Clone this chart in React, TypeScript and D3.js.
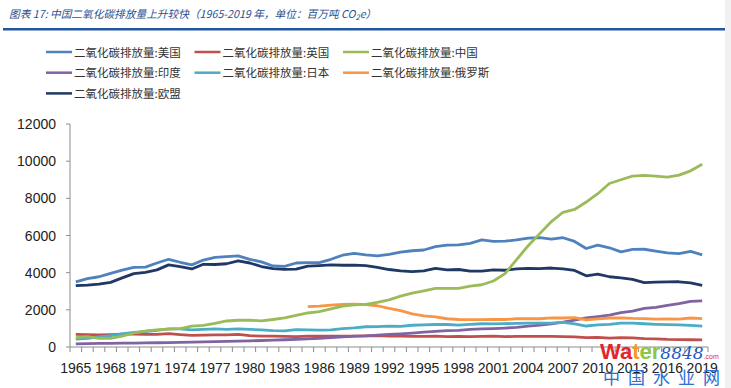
import * as d3 from "d3";

// ── Data ──────────────────────────────────────────────────────────────────────

const YEARS = d3.range(1965, 2020);
const TICK_YEARS = d3.range(1965, 2020, 3);
const Y_TICKS = [0, 2000, 4000, 6000, 8000, 10000, 12000];

const US = [
  3500, 3680, 3780, 3960, 4140, 4280, 4300, 4520, 4720, 4560,
  4420, 4680, 4820, 4860, 4900, 4720, 4580, 4360, 4340, 4520,
  4540, 4540, 4720, 4940, 5040, 4960, 4900, 4980, 5100, 5180,
  5220, 5400, 5480, 5500, 5580, 5760, 5680, 5700, 5760, 5860,
  5880, 5800, 5880, 5680, 5300, 5480, 5340, 5120, 5250, 5260,
  5160, 5060, 5020, 5150, 4960,
];

const UK = [
  680, 670, 650, 670, 690, 700, 680, 680, 720, 670,
  630, 640, 650, 650, 680, 610, 590, 580, 570, 560,
  580, 590, 590, 590, 590, 600, 610, 590, 580, 570,
  570, 590, 560, 570, 560, 570, 580, 560, 570, 570,
  570, 570, 560, 550, 500, 520, 480, 500, 490, 450,
  440, 410, 400, 390, 380,
];

const CHINA = [
  500, 560, 470, 460, 580, 760, 860, 920, 960, 990,
  1120, 1160, 1270, 1400, 1440, 1440, 1410, 1480, 1570, 1700,
  1830, 1900, 2050, 2200, 2270, 2290, 2400, 2540, 2740, 2900,
  3020, 3150, 3160, 3160, 3280, 3350, 3550, 3950, 4700, 5450,
  6100, 6750, 7250, 7400, 7800, 8250, 8800, 9000, 9200, 9230,
  9200, 9140, 9250, 9480, 9830,
];

const INDIA = [
  170, 180, 190, 200, 210, 210, 220, 230, 240, 250,
  260, 280, 290, 300, 320, 330, 350, 370, 390, 410,
  440, 470, 500, 540, 580, 600, 640, 680, 710, 750,
  800, 840, 880, 900, 950, 970, 990, 1020, 1060, 1120,
  1180, 1250, 1340, 1450, 1570, 1640, 1710, 1850, 1930, 2080,
  2130, 2240, 2330, 2450, 2480,
];

const JAPAN = [
  420, 470, 540, 610, 700, 790, 830, 890, 980, 970,
  920, 950, 970, 950, 970, 950, 920, 880, 870, 930,
  920, 910, 920, 990, 1030, 1090, 1100, 1120, 1110, 1170,
  1190, 1210, 1210, 1180, 1220, 1250, 1240, 1260, 1270, 1280,
  1290, 1280, 1320, 1250, 1130, 1190, 1220, 1280, 1290, 1250,
  1220, 1200, 1190, 1160, 1120,
];

// no data before 1985
const RUSSIA: (number | null)[] = [
  null, null, null, null, null, null, null, null, null, null,
  null, null, null, null, null, null, null, null, null, null,
  2170, 2200, 2250, 2290, 2300, 2280, 2220, 2080, 1960, 1780,
  1680, 1620, 1520, 1480, 1470, 1470, 1480, 1480, 1520, 1520,
  1520, 1570, 1560, 1580, 1460, 1510, 1560, 1570, 1540, 1530,
  1500, 1510, 1500, 1560, 1530,
];

const EU = [
  3300, 3330, 3380, 3480, 3720, 3950, 4020, 4150, 4420, 4330,
  4200, 4450, 4440, 4480, 4630, 4520, 4330, 4220, 4180, 4190,
  4350, 4380, 4420, 4400, 4410, 4380, 4280, 4170, 4100, 4060,
  4100, 4230, 4150, 4170, 4080, 4080, 4150, 4130, 4200, 4230,
  4220, 4250, 4200, 4120, 3830, 3920, 3780, 3720, 3640, 3460,
  3490, 3500, 3510, 3450, 3310,
];

const SERIES_NAMES = [
  "二氧化碳排放量:美国",
  "二氧化碳排放量:英国",
  "二氧化碳排放量:中国",
  "二氧化碳排放量:印度",
  "二氧化碳排放量:日本",
  "二氧化碳排放量:俄罗斯",
  "二氧化碳排放量:欧盟",
];
const SERIES_VALUES = [US, UK, CHINA, INDIA, JAPAN, RUSSIA, EU];
const SERIES_COLORS = ["#4F81BD", "#C0504D", "#9BBB59", "#8064A2", "#4BACC6", "#F79646", "#1F3864"];

// ── Config ────────────────────────────────────────────────────────────────────

const W = 731;
const H = 388;
const PLOT = { left: 70, right: 708, top: 124, bottom: 347 };
const AXIS_COLOR = "#8c8c8c";
const NUM_FONT = "'Liberation Sans', Arial, sans-serif";
const CJK_FONT = "'Noto Sans CJK SC', sans-serif";

// ── Component ─────────────────────────────────────────────────────────────────

export default function App() {
  const x = d3.scaleBand<number>().domain(YEARS).range([PLOT.left, PLOT.right]);
  const y = d3.scaleLinear().domain([0, 12000]).range([PLOT.bottom, PLOT.top]);
  const cx = (yr: number) => (x(yr) ?? 0) + x.bandwidth() / 2;

  const line = d3.line<number | null>()
    .defined((d) => d != null)
    .x((_, i) => cx(YEARS[i]))
    .y((d) => y(d as number));

  // draw order: lighter lines first, US and China on top
  const drawOrder = [6, 1, 3, 4, 5, 0, 2];

  return (
    <svg width={W} height={H} style={{ display: "block", position: "absolute", left: 0, top: 0, background: "#fff" }}>
      <rect x={725} y={0} width={6} height={H} fill="#f1f1f1" />

      {/* Title */}
      <text x={9} y={18} fontFamily={CJK_FONT} fontStyle="italic" fontSize={10.7} fill="#2B4F8F">
        图表 17:  中国二氧化碳排放量上升较快（1965-2019 年，单位：百万吨 CO
        <tspan fontSize={7.5} dy={2}>2</tspan>
        <tspan dy={-2}>e）</tspan>
      </text>
      <rect x={3} y={28} width={722} height={2.5} fill="#2356A0" />

      {/* Legend */}
      {SERIES_NAMES.map((name, i) => {
        const col = i % 3;
        const row = Math.floor(i / 3);
        const lx = 46 + col * 148.5;
        const ly = 52 + row * 20.7;
        return (
          <g key={name}>
            <line x1={lx} x2={lx + 26} y1={ly} y2={ly} stroke={SERIES_COLORS[i]} strokeWidth={2.5} />
            <text x={lx + 28} y={ly + 4.5} fontFamily={CJK_FONT} fontSize={11.5} fill="#333">{name}</text>
          </g>
        );
      })}

      {/* Y axis */}
      <line x1={PLOT.left} x2={PLOT.left} y1={PLOT.top} y2={PLOT.bottom} stroke={AXIS_COLOR} strokeWidth={1} />
      {Y_TICKS.map((t) => (
        <g key={t}>
          <line x1={PLOT.left - 4} x2={PLOT.left} y1={y(t)} y2={y(t)} stroke={AXIS_COLOR} />
          <text x={56} y={y(t) + 5} textAnchor="end" fontFamily={NUM_FONT} fontSize={14} fill="#222">{t}</text>
        </g>
      ))}

      {/* Series */}
      {drawOrder.map((i) => (
        <path
          key={SERIES_NAMES[i]}
          d={line(SERIES_VALUES[i]) ?? ""}
          fill="none"
          stroke={SERIES_COLORS[i]}
          strokeWidth={2.8}
          strokeLinejoin="round"
        />
      ))}

      {/* X axis */}
      <line x1={PLOT.left} x2={PLOT.right} y1={PLOT.bottom} y2={PLOT.bottom} stroke={AXIS_COLOR} />
      {YEARS.concat([2020]).map((yr, i) => {
        const tx = PLOT.left + i * x.bandwidth();
        return <line key={yr} x1={tx} x2={tx} y1={PLOT.bottom} y2={PLOT.bottom + 5} stroke={AXIS_COLOR} />;
      })}
      {TICK_YEARS.map((yr) => (
        <text key={yr} x={cx(yr)} y={373} textAnchor="middle" fontFamily={NUM_FONT} fontSize={14} fill="#222">{yr}</text>
      ))}

      {/* Watermark (overlaps the last year labels, as in the source image) */}
      <text x={600} y={359} fontFamily={NUM_FONT} fontWeight="bold" fontSize={22}>
        <tspan fill="#E3262D">Wa</tspan><tspan fill="#F29B1D">t</tspan><tspan fill="#8DC63F">er</tspan>
        <tspan fill="#1E5BC6" fontFamily="'DejaVu Serif', serif" fontStyle="italic" fontWeight="normal" fontSize={17}>8848</tspan>
        <tspan fill="#E3262D" fontSize={7} fontWeight="normal">.com</tspan>
      </text>
      <text x={603} y={384} fontFamily={CJK_FONT} fontSize={17} fill="#2A6FD1" letterSpacing={8}>中国水业网</text>
    </svg>
  );
}
